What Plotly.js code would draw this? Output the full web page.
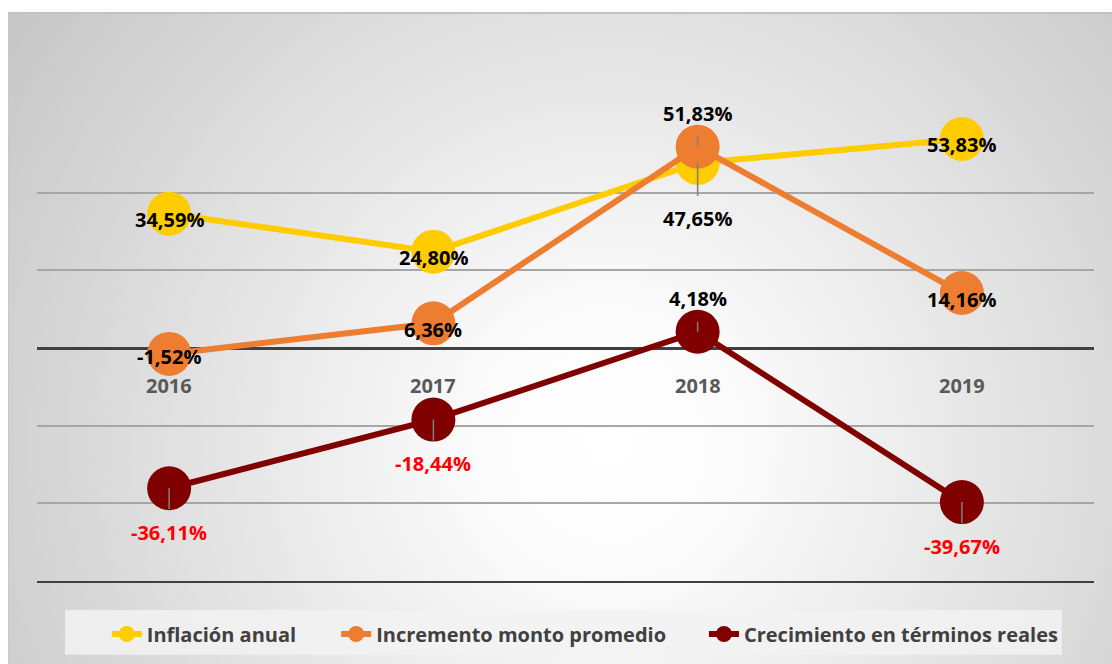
<!DOCTYPE html>
<html>
<head>
<meta charset="utf-8">
<script src="https://cdn.plot.ly/plotly-3.0.1.min.js"></script>
<style>
html,body{margin:0;padding:0;background:#ffffff;width:1112px;height:664px;overflow:hidden}
#bg{position:absolute;left:8px;top:12px;width:1104px;height:652px;box-sizing:border-box;
  border-top:2px solid #c2c2c2;border-left:1px solid #c8c8c8;
  background:radial-gradient(circle farthest-corner at 600px 430px,#ffffff 0%,#fbfbfb 18%,#c6c6c6 100%);}
#chart{position:absolute;left:0;top:0;width:1112px;height:664px}
</style>
</head>
<body>
<div id="bg"></div>
<div id="chart"></div>
<script>
// ---- data ----
const years = ['2016', '2017', '2018', '2019'];
const inflacion = [34.59, 24.80, 47.65, 53.83];
const incremento = [-1.52, 6.36, 51.83, 14.16];
const crecimiento = [-36.11, -18.44, 4.18, -39.67];
const seriesNames = ['Inflación anual', 'Incremento monto promedio', 'Crecimiento en términos reales'];
const gridValues = [-40, -20, 20, 40];

// ---- style ----
const colors = ['#FFCC00', '#ED7D31', '#800000'];
const labelPlacement = [
  ['c', 'c', 'b2', 'c'],
  ['c', 'c', 't', 'c'],
  ['b', 'b', 't', 'b']
];
const placeShift = {c: -6, t: 33, b: -44, b2: -56};
const legendX = [0.066, 0.283, 0.631];
const legendIds = ['legend', 'legend2', 'legend3'];
const FONT = 'Open Sans, Liberation Sans, sans-serif';

const seriesValues = [inflacion, incremento, crecimiento];

const traces = seriesValues.map((vals, s) => ({
  type: 'scatter',
  mode: 'lines+markers',
  name: seriesNames[s],
  legend: legendIds[s],
  x: years,
  y: vals,
  line: {color: colors[s], width: 6},
  marker: {color: colors[s], size: 44, line: {width: 0}},
  hoverinfo: 'skip'
}));

const fmt = v => v.toFixed(2).replace('.', ',') + '%';

const annotations = [];
seriesValues.forEach((vals, s) => {
  vals.forEach((v, i) => {
    const red = (s === 2 && v < 0);
    const place = labelPlacement[s][i];
    let shift = placeShift[place];
    if (s === 1 && i === 0) shift = -3;
    const ann = {
      x: i, y: v, xref: 'x', yref: 'y',
      text: fmt(v),
      xanchor: 'center', yanchor: 'middle',
      font: {family: FONT, size: 20, weight: 700, color: red ? '#FF0000' : '#000000'}
    };
    if (place === 'c') {
      ann.showarrow = false;
      ann.yshift = shift;
    } else {
      ann.showarrow = true;
      ann.arrowhead = 0;
      ann.arrowwidth = 1.5;
      ann.arrowcolor = '#7f7f7f';
      ann.ax = 0;
      ann.ay = -shift;
      ann.standoff = 0;
      ann.startstandoff = 8;
    }
    annotations.push(ann);
  });
});
years.forEach((yr, i) => {
  annotations.push({
    x: i, y: 0, xref: 'x', yref: 'y',
    text: yr, showarrow: false,
    xanchor: 'center', yanchor: 'middle', yshift: -37,
    font: {family: FONT, size: 20, weight: 700, color: '#595959'}
  });
});

const legendBase = {
  orientation: 'h', xanchor: 'left', y: -0.1113, yanchor: 'middle',
  bgcolor: 'rgba(0,0,0,0)',
  font: {family: FONT, size: 20, weight: 700, color: '#404040'}
};

const layout = {
  width: 1112, height: 664,
  margin: {l: 37, r: 18, t: 115, b: 82, pad: 0},
  paper_bgcolor: 'rgba(0,0,0,0)',
  plot_bgcolor: 'rgba(0,0,0,0)',
  showlegend: true,
  xaxis: {
    type: 'category', range: [-0.5, 3.5],
    showticklabels: false, showgrid: false, zeroline: false,
    showline: true, linecolor: '#404040', linewidth: 2, ticks: ''
  },
  yaxis: {
    range: [-60, 60], tickvals: gridValues, showticklabels: false, ticks: '',
    showgrid: true, gridcolor: '#a6a6a6', gridwidth: 2,
    zeroline: true, zerolinecolor: '#404040', zerolinewidth: 3,
    showline: false
  },
  shapes: [{
    type: 'rect', xref: 'paper', yref: 'paper',
    x0: 0.0265, x1: 0.9697, y0: -0.0621, y1: -0.1585,
    fillcolor: 'rgba(242,242,242,0.85)', line: {width: 0}, layer: 'below'
  }],
  annotations: annotations
};
legendIds.forEach((id, s) => {
  layout[id] = Object.assign({}, legendBase, {x: legendX[s]});
});

Plotly.newPlot('chart', traces, layout, {displayModeBar: false, staticPlot: true});
</script>
</body>
</html>
